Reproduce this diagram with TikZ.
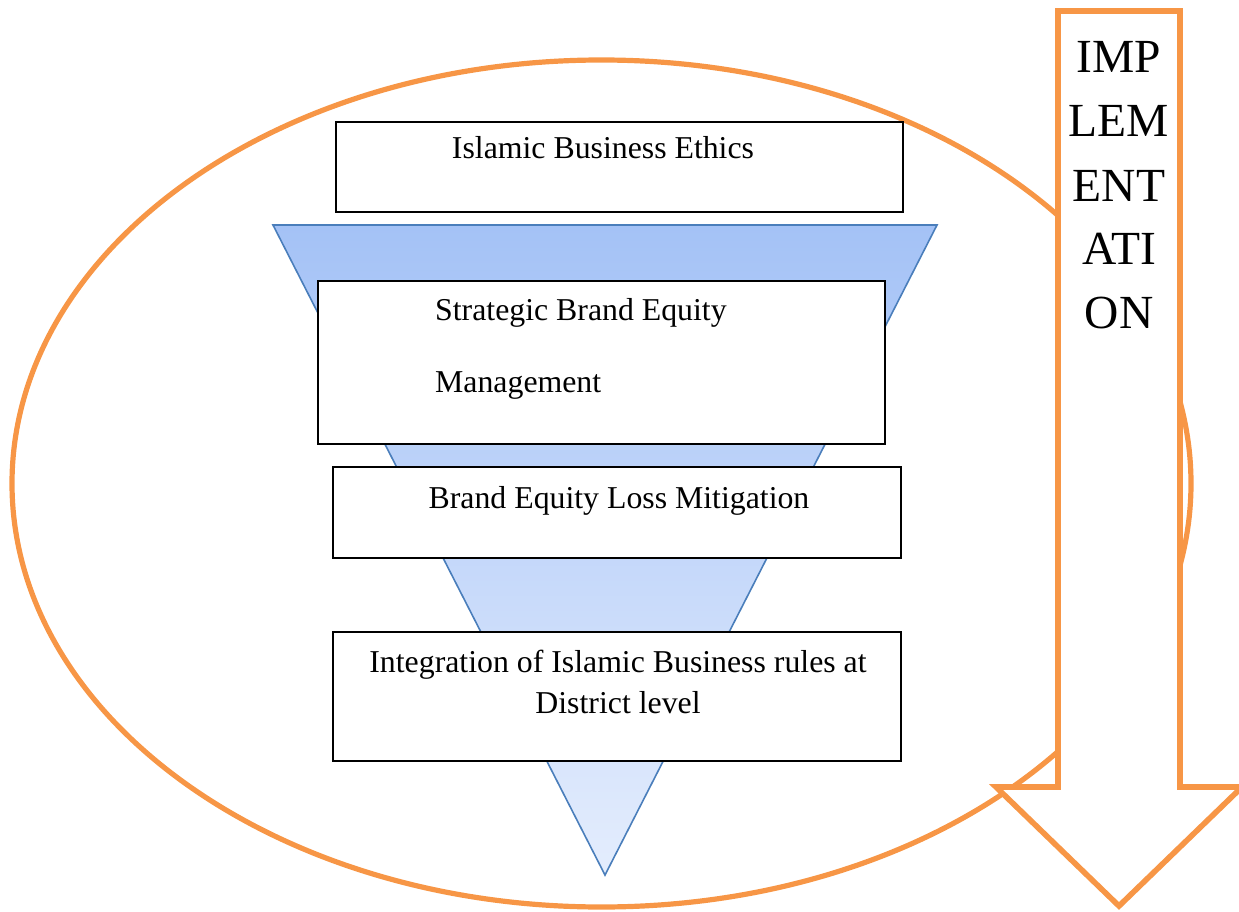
\documentclass[tikz,border=0pt]{standalone}
\usepackage{fontspec}
\setmainfont{Liberation Serif}
\definecolor{ringorange}{RGB}{247,150,70}
\definecolor{funneltop}{RGB}{164,194,246}
\definecolor{funnelbot}{RGB}{228,237,253}
\definecolor{funneledge}{RGB}{74,126,187}
\begin{document}
\begin{tikzpicture}[x=1pt,y=-1pt,
  box/.style={draw=black, line width=1.8pt, fill=white, inner sep=0pt},
  lbl/.style={font=\fontsize{31.8}{38}\selectfont, inner sep=0pt, anchor=base},
  lblleft/.style={lbl, anchor=base west},
  biglbl/.style={font=\fontsize{47.5}{57}\selectfont, inner sep=0pt, anchor=base},
  ring/.style={draw=ringorange, line width=5.2pt},
  arrowbody/.style={draw=ringorange, fill=white, line width=5.6pt, line join=miter},
  funnel/.style={top color=funneltop, bottom color=funnelbot, draw=funneledge, line width=1.6pt}]
\useasboundingbox (0,0) rectangle (1239,912);

% outer ring
\coordinate (ringc) at (601.5,483.5);
\draw[ring] (ringc) ellipse [x radius=589.5, y radius=423.5];

% funnel triangle
\coordinate (ftl) at (273,225);
\coordinate (ftr) at (937,225);
\coordinate (ftip) at (605,875);
\shadedraw[funnel] (ftl) -- (ftr) -- (ftip) -- cycle;

% stage boxes
\node[box, minimum width=567, minimum height=90] (ethics) at (619.5,167) {};
\node[box, minimum width=567, minimum height=163] (strategic) at (601.5,362.5) {};
\node[box, minimum width=568, minimum height=91] (mitigation) at (617,512.5) {};
\node[box, minimum width=568, minimum height=129] (district) at (617,696.5) {};

\node[lbl] (ethicsT) at (603,159) {Islamic Business Ethics};
\node[lblleft] (strategicA) at (435,320) {Strategic Brand Equity};
\node[lblleft] (strategicB) at (435,392) {Management};
\node[lbl] (mitigationT) at (619,508) {Brand Equity Loss Mitigation};
\node[lbl] (districtA) at (618,672) {Integration of Islamic Business rules at};
\node[lbl] (districtB) at (618,713) {District level};

% implementation arrow
\coordinate (atl) at (1058,11);
\coordinate (atr) at (1180,11);
\coordinate (asr) at (1180,787);
\coordinate (awr) at (1242,787);
\coordinate (atip) at (1119,906);
\coordinate (awl) at (996,787);
\coordinate (asl) at (1058,787);
\draw[arrowbody] (atl) -- (atr) -- (asr) -- (awr) -- (atip) -- (awl) -- (asl) -- cycle;

\node[biglbl] (imp1) at (1119,73) {IMP};
\node[biglbl] (imp2) at (1119,137) {LEM};
\node[biglbl] (imp3) at (1119,201) {ENT};
\node[biglbl] (imp4) at (1119,264) {ATI};
\node[biglbl] (imp5) at (1119,328) {ON};
\end{tikzpicture}
\end{document}
